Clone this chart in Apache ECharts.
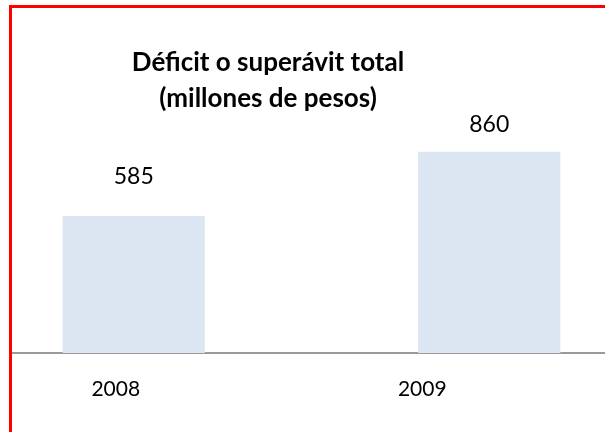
<!DOCTYPE html>
<html>
<head>
<meta charset="utf-8">
<script src="https://cdn.jsdelivr.net/npm/echarts@6/dist/echarts.min.js"></script>
<style>
html,body{margin:0;padding:0;background:#fff;overflow:hidden;}
#chart{width:711px;height:432px;margin-left:-44px;}
</style>
</head>
<body>
<div id="chart"></div>
<script>
// datos
var years = ['2008', '2009'];
var deficit = [585, 860];
var labelGap = [28, 16];     // separacion de la etiqueta sobre la barra
var yearShift = [36, 134];   // desplazamiento de las etiquetas del eje

var chart = echarts.init(document.getElementById('chart'));
var option = {
    animation: false,
    backgroundColor: '#fff',
    title: {
        text: 'Déficit o superávit total\n(millones de pesos)',
        left: 44 + 263,
        top: 40,
        textAlign: 'center',
        textStyle: {
            fontFamily: 'Lato',
            fontWeight: 'bold',
            fontSize: 26,
            lineHeight: 36,
            color: '#000'
        }
    },
    grid: {
        left: 0,
        right: 0,
        top: 119,
        bottom: 79
    },
    xAxis: {
        type: 'category',
        data: years,
        axisTick: {show: false},
        axisLine: {lineStyle: {color: '#9a9a9a', width: 2}},
        axisLabel: {
            margin: 26,
            formatter: function (v, i) {
                return '{y' + i + '|' + v + '}';
            },
            rich: {
                y0: {fontFamily: 'Lato', fontSize: 21, color: '#000', padding: [0, yearShift[0], 0, 0]},
                y1: {fontFamily: 'Lato', fontSize: 21, color: '#000', padding: [0, yearShift[1], 0, 0]}
            }
        }
    },
    yAxis: {
        type: 'value',
        min: 0,
        max: 1000,
        show: false,
        splitLine: {show: false}
    },
    series: [{
        type: 'bar',
        barWidth: '40%',
        itemStyle: {color: '#dce6f2'},
        label: {
            show: true,
            position: 'top',
            fontFamily: 'Lato',
            fontSize: 23,
            color: '#000'
        },
        data: deficit.map(function (v, i) {
            return {value: v, label: {distance: labelGap[i]}};
        })
    }],
    graphic: [
        {type: 'rect', z: 100, shape: {x: 0, y: 0, width: 44 + 9, height: 432}, style: {fill: '#fff'}},
        {type: 'rect', z: 101, shape: {x: 44 + 9, y: 5, width: 3, height: 427}, style: {fill: '#ff0000'}},
        {type: 'rect', z: 101, shape: {x: 44 + 9, y: 5, width: 700, height: 3}, style: {fill: '#ff0000'}}
    ]
};
chart.setOption(option);
</script>
</body>
</html>
